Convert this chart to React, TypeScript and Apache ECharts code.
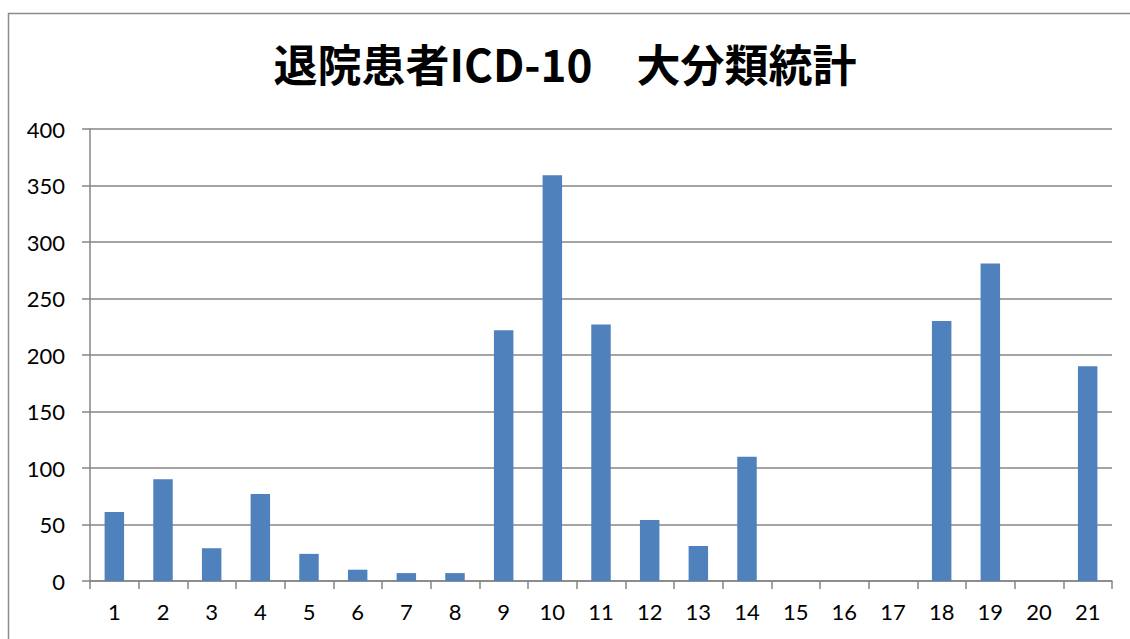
import React, { useEffect, useRef } from "react";
import * as echarts from "echarts";

const titleText = "退院患者ICD-10　大分類統計";
const categories = ["1","2","3","4","5","6","7","8","9","10","11","12","13","14","15","16","17","18","19","20","21"];
const values = [61, 90, 29, 77, 24, 10, 7, 7, 222, 359, 227, 54, 31, 110, 0, 0, 0, 230, 281, 0, 190];
const yTicks = { min: 0, max: 400, interval: 50 };

export default function App() {
  const ref = useRef<HTMLDivElement>(null);
  useEffect(() => {
    document.body.style.margin = "0";
    const chart = echarts.init(ref.current!, undefined, { renderer: "svg" });
    const font = "Lato, 'Noto Sans CJK JP', sans-serif";
    chart.setOption({
      animation: false,
      backgroundColor: "#ffffff",
      graphic: [
        {
          type: "rect",
          shape: { x: 8.5, y: 13.5, width: 1140, height: 650 },
          style: { fill: "none", stroke: "#8c8c8c", lineWidth: 1.5 },
          z: -1,
        },
      ],
      title: {
        text: titleText,
        left: "center",
        top: 36,
        textStyle: { fontSize: 44, fontWeight: "bold", color: "#000", fontFamily: "'Noto Sans CJK JP', sans-serif" },
      },
      grid: { left: 90, top: 129, width: 1022, height: 452, containLabel: false },
      xAxis: {
        type: "category",
        data: categories,
        axisLine: { show: true, lineStyle: { color: "#868686", width: 1.5 } },
        axisTick: { show: true, length: 8, alignWithLabel: false, lineStyle: { color: "#868686", width: 1.5 } },
        axisLabel: { color: "#000", fontSize: 22, margin: 19, fontFamily: font },
        splitLine: { show: false },
      },
      yAxis: {
        type: "value",
        min: yTicks.min,
        max: yTicks.max,
        interval: yTicks.interval,
        axisLine: { show: true, lineStyle: { color: "#868686", width: 1.5 } },
        axisTick: { show: true, length: 8, lineStyle: { color: "#868686", width: 1.5 } },
        axisLabel: { color: "#000", fontSize: 22, margin: 25, fontFamily: font },
        splitLine: { show: true, lineStyle: { color: "#868686", width: 1.5 } },
      },
      series: [
        {
          type: "bar",
          data: values,
          barWidth: "40%",
          itemStyle: { color: "#4F81BD" },
        },
      ],
    });
    return () => chart.dispose();
  }, []);
  return <div ref={ref} style={{ width: 1130, height: 639 }} />;
}
